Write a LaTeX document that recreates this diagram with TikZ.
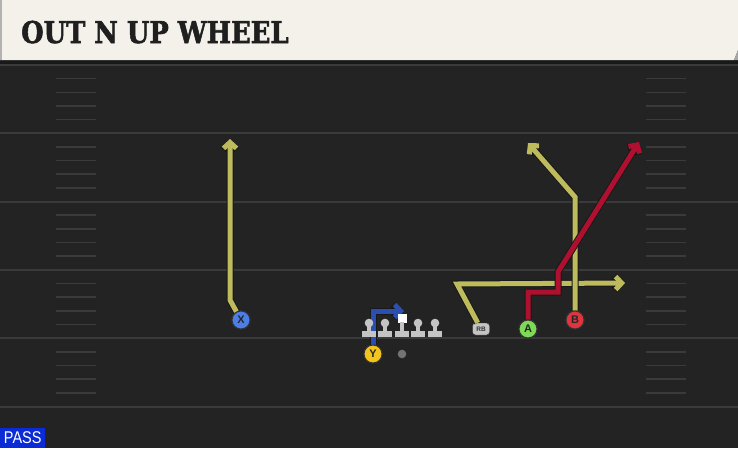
\documentclass[tikz,border=0pt]{standalone}
\usepackage{fontspec}
\usetikzlibrary{arrows.meta}
\newfontfamily\titlefont{DejaVu Serif}[BoldFeatures={FakeBold=2}]
\newfontfamily\labelfont{Liberation Sans}
\definecolor{fieldbg}{HTML}{232323}
\definecolor{headerbg}{HTML}{F3F1EA}
\definecolor{yardline}{HTML}{3A3A3A}
\definecolor{routeyellow}{HTML}{BDBB5C}
\definecolor{routered}{HTML}{B01030}
\definecolor{routeblue}{HTML}{2A4FB0}
\definecolor{xblue}{HTML}{4C7EE8}
\definecolor{yyellow}{HTML}{F2C41C}
\definecolor{agreen}{HTML}{7ED957}
\definecolor{bred}{HTML}{E0353F}
\definecolor{passblue}{HTML}{0A2BD6}
\definecolor{linegray}{HTML}{C4C4C4}
\tikzset{
  route/.style={line width=5pt, preaction={draw=black!90, line width=7pt},
    -{Straight Barb[length=6pt,width=13pt]}},
  player/.style={circle, draw=black!80, line width=1pt, minimum size=18pt, inner sep=0pt,
    font=\labelfont\bfseries\fontsize{11}{11}\selectfont, text=black!85},
  lineman/.style={fill=linegray}
}
\begin{document}
\begin{tikzpicture}[x=1pt,y=-1pt]
  \useasboundingbox (0,0) rectangle (738,448);
  \fill[fieldbg] (0,0) rectangle (738,448);
  \fill[black!90] (0,60) rectangle (738,64);
  \fill[headerbg] (0,0) -- (738,0) -- (738,50) -- (734,60) -- (0,60) -- cycle;
  \fill[black!35] (734,60) -- (738,50) -- (738,60) -- cycle;
  \fill[black!30] (0,0) rectangle (2,60);
  \node[anchor=base west, inner sep=0pt, text=black!88,
        font=\titlefont\bfseries\fontsize{30}{30}\selectfont] (title) at (21,43)
        {\scalebox{0.86}[1]{OUT N UP WHEEL}};

  \foreach \i in {0,...,5}
    \draw[yardline, line width=2pt] (0,65+68.3*\i) -- (738,65+68.3*\i);
  \foreach \i in {0,...,4}
    \foreach \k in {1,...,4} {
      \draw[yardline, line width=1.6pt] (56,65+68.3*\i+13.66*\k) -- (96,65+68.3*\i+13.66*\k);
      \draw[yardline, line width=1.6pt] (646,65+68.3*\i+13.66*\k) -- (686,65+68.3*\i+13.66*\k);
    }

  \node[player, fill=xblue] (X) at (241,320) {X};
  \node[player, fill=yyellow] (Y) at (373,354) {Y};
  \node[player, fill=agreen] (A) at (528,329) {A};
  \node[player, fill=bred] (B) at (575,320) {B};
  \node[draw=black!80, fill=linegray, rounded corners=3pt, minimum width=17pt, minimum height=12pt,
        inner sep=0pt, text=black!80, font=\labelfont\bfseries\fontsize{6.5}{6.5}\selectfont] (RB) at (481,329) {RB};

  \coordinate (xbend) at (230,300);
  \coordinate (xend) at (230,139);
  \coordinate (ybend) at (373,311);
  \coordinate (yend) at (404,311);
  \coordinate (rbbend) at (457,284);
  \coordinate (rbend) at (625,283);
  \coordinate (abend1) at (528,292);
  \coordinate (abend2) at (558,292);
  \coordinate (abend3) at (558,272);
  \coordinate (aend) at (639,142);
  \coordinate (bbend) at (575,197);
  \coordinate (bend) at (528,143);

  \draw[route, routeyellow] (X) -- (xbend) -- (xend);
  \draw[route, routeyellow] (RB) -- (rbbend) -- (rbend);
  \draw[route, routeyellow] (B) -- (bbend) -- (bend);
  \draw[route, routered] (A) -- (abend1) -- (abend2) -- (abend3) -- (aend);
  \draw[route, routeblue] (Y) -- (ybend) -- (yend);

  \foreach \x in {369,385,418,435} {
    \fill[lineman] (\x,323) circle (4.3pt);
    \fill[lineman] (\x-2.4,323) rectangle (\x+2.4,333);
    \fill[lineman] (\x-6.8,331) rectangle (\x+6.8,337);
  }
  \fill[white] (397.5,313.5) rectangle (406.5,322.5);
  \fill[lineman] (399.6,322) rectangle (404.4,333);
  \fill[lineman] (395.2,331) rectangle (408.8,337);
  \fill[black!55] (402,354) circle (4.3pt);

  \node[player, fill=xblue] at (X) {X};
  \node[player, fill=yyellow] at (Y) {Y};
  \node[player, fill=agreen] at (A) {A};
  \node[player, fill=bred] at (B) {B};

  \node[fill=passblue, anchor=south west, minimum width=45pt, minimum height=20pt, inner sep=0pt,
        text=white, font=\labelfont\fontsize{17}{17}\selectfont] (pass) at (0,448)
        {\scalebox{0.85}[1]{PASS}};
\end{tikzpicture}
\end{document}
